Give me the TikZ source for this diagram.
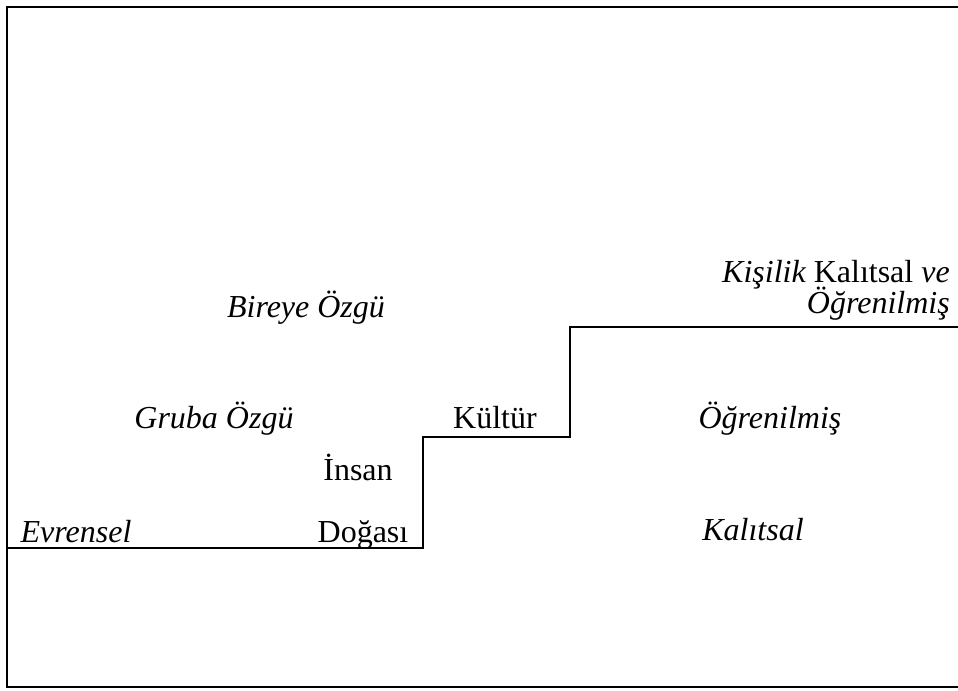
\documentclass[tikz,border=0pt]{standalone}
\usepackage{fontspec}
\setmainfont{Liberation Serif}
\usepackage{tikz}

\tikzset{
  lbl/.style={anchor=base, inner sep=0pt, font=\fontsize{24}{29}\selectfont},
  ilbl/.style={lbl, font=\fontsize{24}{29}\selectfont\itshape},
  stair/.style={line width=1.8pt, line join=miter}
}

\begin{document}
\begin{tikzpicture}[x=0.75pt, y=-0.75pt]
  \useasboundingbox (0,0) rectangle (958,690);
  % frame
  \draw [line width=2pt] (970,7) -- (7,7) -- (7,687) -- (970,687);
  % staircase
    \coordinate (S0) at (7,548);
    \coordinate (S1) at (423,548);
    \coordinate (S2) at (423,437);
    \coordinate (S3) at (570,437);
    \coordinate (S4) at (570,327);
    \coordinate (S5) at (970,327);
  \draw [stair] (S0) -- (S1) -- (S2) -- (S3) -- (S4) -- (S5) ;
  % bottom level
  \node [ilbl] (evr) at (76,542) {Evrensel};
  \node [lbl] (dog) at (363,542) {Doğası};
  \node [lbl] (ins) at (358,480) {İnsan};
  \node [ilbl] (kal) at (753,540) {Kalıtsal};
  % middle level
  \node [ilbl] (grp) at (214,428) {Gruba Özgü};
  \node [lbl] (kul) at (495,428) {Kültür};
  \node [ilbl] (ogr) at (770,428) {Öğrenilmiş};
  % top level
  \node [ilbl] (bir) at (306,317) {Bireye Özgü};
  \node [lbl, anchor=base east] (kis) at (950,282) {\itshape Kişilik \upshape Kalıtsal \itshape ve};
  \node [ilbl, anchor=base east] (kog) at (950,313) {Öğrenilmiş};
\end{tikzpicture}
\end{document}
